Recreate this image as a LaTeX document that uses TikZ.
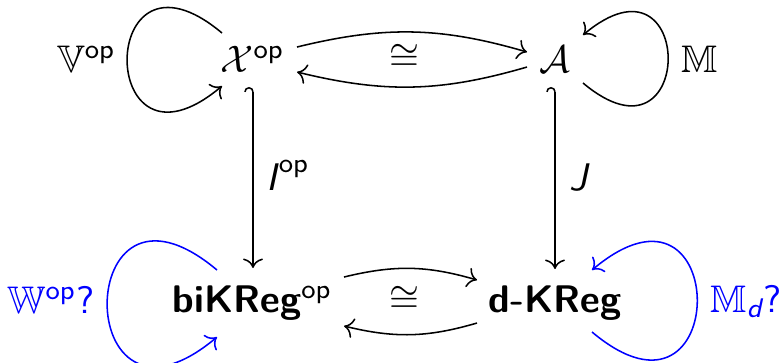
\documentclass[tikz,border=0pt]{standalone}
\usepackage{amssymb}
\usetikzlibrary{arrows.meta}
\begin{document}
\begin{tikzpicture}[x=0.26pt,y=0.26pt,
  every node/.style={font=\sffamily, inner sep=0pt},
  obj/.style={anchor=base},
  arr/.style={-{Computer Modern Rightarrow}, line width=0.4pt},
  hookarr/.style={{Hooks[left]}-{Computer Modern Rightarrow}, line width=0.4pt},
  bluearr/.style={arr, blue}]
\useasboundingbox (0,0) rectangle (784,-362);
% objects
\node[obj] (X) at (252.5,-72) {$\mathcal{X}^{\mathsf{op}}$};
\node[obj] (A) at (555,-72) {$\mathcal{A}$};
\node[obj] (B) at (252.5,-312) {\textbf{biKReg}$^{\mathsf{op}}$};
\node[obj] (D) at (555,-312) {\textbf{d-KReg}};
% labels
\node[obj] (V) at (86.5,-72) {$\mathbb{V}^{\mathsf{op}}$};
\node[obj] (M) at (699.5,-72) {$\mathbb{M}$};
\node[obj, blue] (W) at (51,-313) {$\mathbb{W}^{\mathsf{op}}$?};
\node[obj, blue] (Md) at (746,-312) {$\mathbb{M}_{\mbox{\scriptsize\itshape d}}$?};
\node[obj] (I) at (288,-190) {$\mbox{\itshape I\/}^{\mathsf{op}}$};
\node[obj] (J) at (579,-190) {\itshape J};
\node (iso1) at (404,-57.5) {$\cong$};
\node (iso2) at (404,-299.5) {$\cong$};
% horizontal isomorphisms
\draw[arr] ([shift={(44.5,25)}]X.base) to[bend left=15] ([shift={(-28,20)}]A.base);
\draw[arr] ([shift={(-28,5)}]A.base) to[bend left=15] ([shift={(44.5,0)}]X.base);
\draw[arr] ([shift={(91.5,35)}]B.base) to[bend left=15] ([shift={(-78,32)}]D.base);
\draw[arr] ([shift={(-78,-11)}]D.base) to[bend left=15] ([shift={(91.5,-14)}]B.base);
% vertical hooks
\draw[hookarr] ([shift={(0.5,-15)}]X.base) -- ([shift={(0.5,44)}]B.base);
\draw[hookarr] ([shift={(0,-15)}]A.base) -- ([shift={(0,43)}]D.base);
% loops
\draw[arr] ([shift={(-30.5,39)}]X.base) .. controls +(140:165) and +(220:165) .. ([shift={(-30.5,-14)}]X.base);
\draw[arr] ([shift={(28,-11)}]A.base) .. controls +(-40:148) and +(40:148) .. ([shift={(28,37)}]A.base);
\draw[bluearr] ([shift={(-35.5,42)}]B.base) .. controls +(140:191) and +(220:191) .. ([shift={(-35.5,-25)}]B.base);
\draw[bluearr] ([shift={(37,-20)}]D.base) .. controls +(-40:183) and +(40:183) .. ([shift={(37,42)}]D.base);
\end{tikzpicture}
\end{document}
